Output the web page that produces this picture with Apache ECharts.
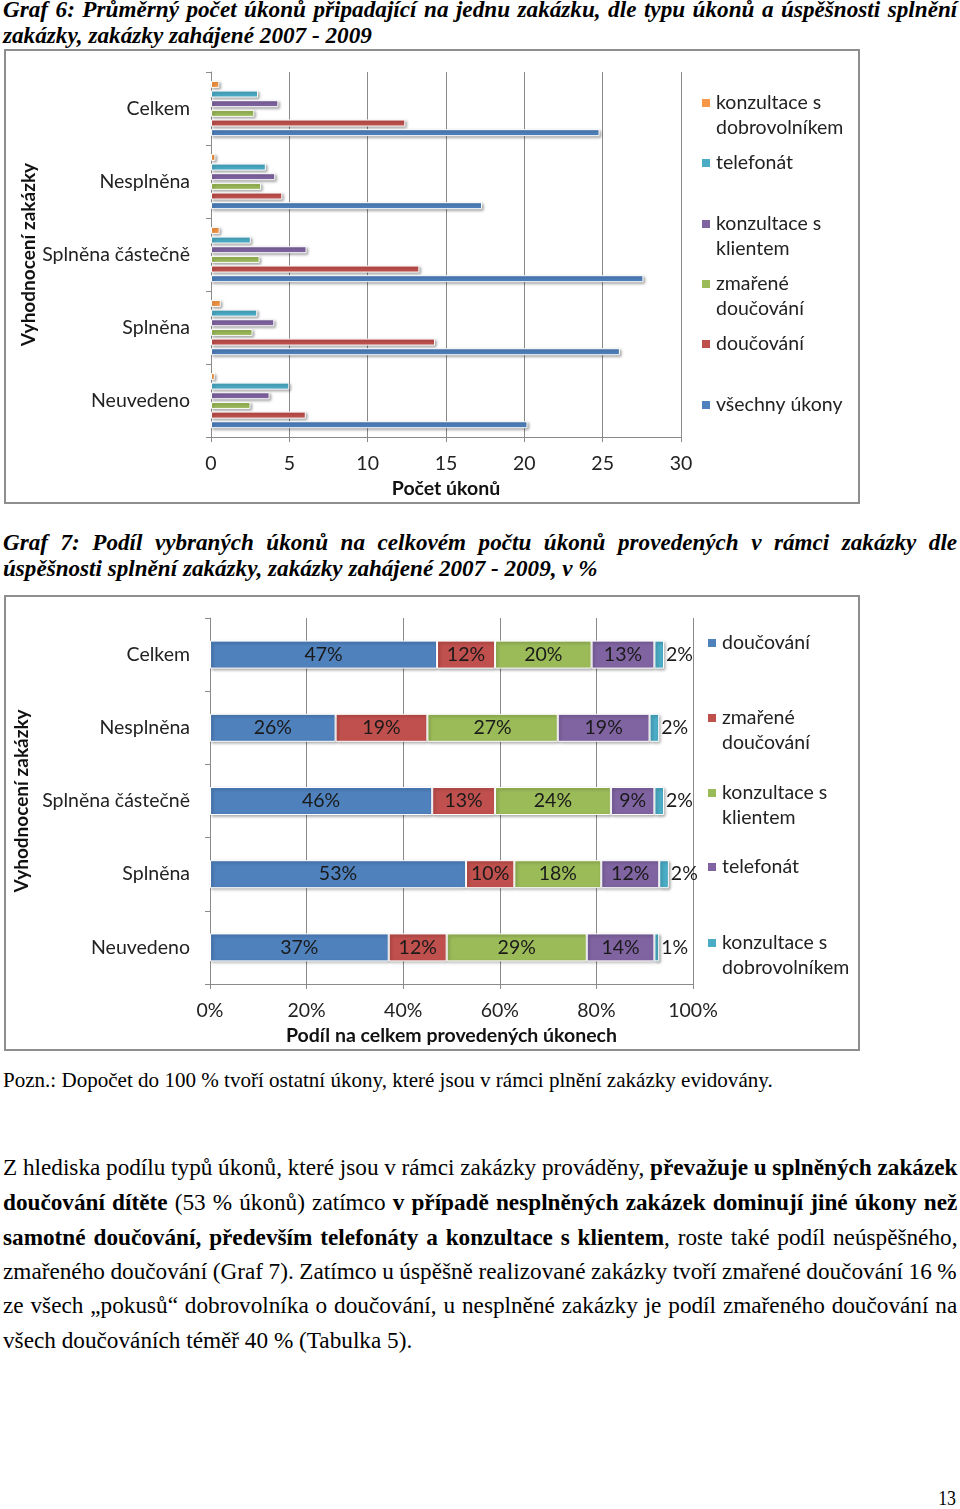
<!DOCTYPE html>
<html><head><meta charset="utf-8">
<script src="https://cdn.jsdelivr.net/npm/echarts@6/dist/echarts.min.js"></script>
<style>
html,body{margin:0;padding:0;background:#fff;}
body{width:960px;height:1509px;position:relative;overflow:hidden;}
.ln{position:absolute;left:3px;white-space:nowrap;font-family:"Liberation Serif","Times New Roman",serif;color:#000;transform-origin:0 50%;height:30px;line-height:30px;}
.t{font-weight:bold;font-style:italic;font-size:22.5px;}
.p{font-size:23px;}
.n{font-size:21px;}
.box{position:absolute;left:4px;width:856px;border:2px solid #8e8e8e;box-sizing:border-box;}
.chart{position:absolute;left:0;width:960px;}
b{font-weight:bold;}
</style></head><body>

<div class="ln t g6" data-j="1" style="top:-5px">Graf 6: Průměrný počet úkonů připadající na jednu zakázku, dle typu úkonů a úspěšnosti splnění</div>
<div class="ln t g6" style="top:21px">zakázky, zakázky zahájené 2007 - 2009</div>

<div class="box" style="top:49px;height:455px"></div>
<div id="c1" class="chart" style="top:50px;height:454px"></div>

<div class="ln t g7" data-j="1" style="top:528px">Graf 7: Podíl vybraných úkonů na celkovém počtu úkonů provedených v rámci zakázky dle</div>
<div class="ln t g7" style="top:554px">úspěšnosti splnění zakázky, zakázky zahájené 2007 - 2009, v %</div>

<div class="box" style="top:595px;height:456px"></div>
<div id="c2" class="chart" style="top:596px;height:455px"></div>

<div class="ln n gn" style="top:1065px">Pozn.: Dopočet do 100 % tvoří ostatní úkony, které jsou v rámci plnění zakázky evidovány.</div>

<div class="ln p gp" data-j="1" style="top:1153px">Z hlediska podílu typů úkonů, které jsou v rámci zakázky prováděny, <b>převažuje u splněných zakázek</b></div>
<div class="ln p gp" data-j="1" style="top:1188px"><b>doučování dítěte</b> (53 % úkonů) zatímco <b>v případě nesplněných zakázek dominují jiné úkony než</b></div>
<div class="ln p gp" data-j="1" style="top:1223px"><b>samotné doučování, především telefonáty a konzultace s klientem</b>, roste také podíl neúspěšného,</div>
<div class="ln p gp" data-j="1" style="top:1257px">zmařeného doučování (Graf 7). Zatímco u úspěšně realizované zakázky tvoří zmařené doučování 16 %</div>
<div class="ln p gp" data-j="1" style="top:1291px">ze všech „pokusů“ dobrovolníka o doučování, u nesplněné zakázky je podíl zmařeného doučování na</div>
<div class="ln p gp" style="top:1326px">všech doučováních téměř 40 % (Tabulka 5).</div>

<div class="ln p" id="pg" style="top:1483px;left:auto;right:4px;font-size:21px;">13</div>

<script>
// ---------- DATA ----------
const categories = ['Celkem', 'Nesplněna', 'Splněna částečně', 'Splněna', 'Neuvedeno'];

// Graf 6: average number of actions per order
const g6SeriesNames = ['konzultace s dobrovolníkem', 'telefonát', 'konzultace s klientem', 'zmařené doučování', 'doučování', 'všechny úkony'];
const g6KonzultaceDobrovolnik = [0.53, 0.28, 0.55, 0.62, 0.24];
const g6Telefonat = [3.0, 3.5, 2.54, 2.95, 5.0];
const g6KonzultaceKlient = [4.3, 4.1, 6.1, 4.04, 3.74];
const g6ZmareneDoucovani = [2.76, 3.2, 3.1, 2.65, 2.52];
const g6Doucovani = [12.4, 4.55, 13.3, 14.3, 6.05];
const g6VsechnyUkony = [24.8, 17.3, 27.6, 26.1, 20.2];
const g6Ticks = [0, 5, 10, 15, 20, 25, 30];

// Graf 7: share of selected actions, %
const g7SeriesNames = ['doučování', 'zmařené doučování', 'konzultace s klientem', 'telefonát', 'konzultace s dobrovolníkem'];
const g7Doucovani = [47, 26, 46, 53, 37];
const g7ZmareneDoucovani = [12, 19, 13, 10, 12];
const g7KonzultaceKlient = [20, 27, 24, 18, 29];
const g7Telefonat = [13, 19, 9, 12, 14];
const g7KonzultaceDobrovolnik = [2, 2, 2, 2, 1];
const g7Ticks = [0, 20, 40, 60, 80, 100];

// ---------- STYLE ----------
const C = {blue:'#4F81BD', red:'#C0504D', green:'#9BBB59', purple:'#8064A2', teal:'#4BACC6', orange:'#F79646'};
const FONT = 'Lato, "Open Sans", sans-serif';
const TXT = '#222';
const AX = '#8a8a8a';

function wrapName(n) {
  if (n.length <= 13) return n;
  let idx = -1;
  for (let i = 0; i < n.length && i <= 12; i++) if (n[i] === ' ') idx = i;
  if (idx < 0) return n;
  return '\n' + n.slice(0, idx) + '\n' + n.slice(idx + 1);
}
function legends(names, left, centers) {
  return names.map((n, i) => {
    const two = wrapName(n) !== n;
    return {
      data: [n], left: left, top: centers[i] - (two ? 37.5 : 12.5),
      orient: 'vertical', padding: 0, itemWidth: 10, itemHeight: 10,
      selectedMode: false, icon: 'rect',
      formatter: wrapName,
      textStyle: {fontFamily: FONT, fontSize: 19.5, lineHeight: 25, color: TXT}
    };
  });
}
function catAxis(margin, gap) {
  return {
    type: 'category', data: categories, inverse: true,
    name: 'Vyhodnocení zakázky', nameLocation: 'middle', nameGap: gap,
    nameTextStyle: {fontFamily: FONT, fontSize: 19, fontWeight: 'bold', color: '#111'},
    axisLine: {show: true, lineStyle: {color: AX, width: 1}},
    axisTick: {show: true, length: 5, lineStyle: {color: AX}},
    axisLabel: {margin: margin, fontFamily: FONT, fontSize: 19.5, color: TXT},
    splitLine: {show: false}
  };
}
function valAxis(ticks, name, gap, fmt) {
  return {
    type: 'value', min: ticks[0], max: ticks[ticks.length - 1], interval: ticks[1] - ticks[0],
    name: name, nameLocation: 'middle', nameGap: gap,
    nameTextStyle: {fontFamily: FONT, fontSize: 19.5, fontWeight: 'bold', color: '#111'},
    axisLine: {show: true, lineStyle: {color: AX, width: 1}},
    axisTick: {show: true, length: 5, lineStyle: {color: AX}},
    axisLabel: {margin: 17, fontFamily: FONT, fontSize: 19.5, color: TXT, formatter: fmt},
    splitLine: {show: true, lineStyle: {color: AX, width: 1}}
  };
}
const barStyle = (color) => ({
  color: color, borderColor: '#ffffff', borderWidth: 1,
  shadowColor: 'rgba(0,0,0,0.35)', shadowBlur: 3, shadowOffsetX: 1.5, shadowOffsetY: 1.5
});

// ---------- CHART 1 ----------
const g6Data = [g6KonzultaceDobrovolnik, g6Telefonat, g6KonzultaceKlient, g6ZmareneDoucovani, g6Doucovani, g6VsechnyUkony];
const g6Colors = [C.orange, C.teal, C.purple, C.green, C.red, C.blue];
const c1 = echarts.init(document.getElementById('c1'), null, {renderer: 'canvas'});
c1.setOption({
  animation: false,
  grid: {left: 211, top: 22, width: 470, height: 366, containLabel: false},
  xAxis: valAxis(g6Ticks, 'Počet úkonů', 40, '{value}'),
  yAxis: catAxis(21, 173),
  legend: legends(g6SeriesNames, 700, [53, 113, 174, 234, 294, 355]),
  series: g6SeriesNames.map((n, i) => ({
    name: n, type: 'bar', data: g6Data[i], barWidth: 7, barGap: '38%',
    itemStyle: barStyle(g6Colors[i])
  }))
});

// ---------- CHART 2 ----------
const g7Data = [g7Doucovani, g7ZmareneDoucovani, g7KonzultaceKlient, g7Telefonat, g7KonzultaceDobrovolnik];
const g7Colors = [C.blue, C.red, C.green, C.purple, C.teal];
const c2 = echarts.init(document.getElementById('c2'), null, {renderer: 'canvas'});
c2.setOption({
  animation: false,
  grid: {left: 210, top: 22, width: 483, height: 366, containLabel: false},
  xAxis: valAxis(g7Ticks, 'Podíl na celkem provedených úkonech', 40, '{value}%'),
  yAxis: catAxis(20, 176),
  legend: legends(g7SeriesNames, 706, [47, 122, 197, 271, 347]),
  series: g7SeriesNames.map((n, i) => ({
    name: n, type: 'bar', stack: 'podil', data: g7Data[i], barWidth: 28,
    itemStyle: barStyle(g7Colors[i]),
    label: {
      show: true, position: i === g7SeriesNames.length - 1 ? 'right' : 'inside', distance: 2,
      formatter: '{c}%', fontFamily: FONT, fontSize: 19.5, color: '#1a1a1a'
    }
  }))
});

// ---------- TEXT FITTING (condensed serif as in the scanned page) ----------
function fitGroup(cls, refWidth, fullWidth) {
  const lines = Array.from(document.querySelectorAll('.' + cls));
  const ref = lines[lines.length - 1];
  const s = refWidth / ref.offsetWidth;
  lines.forEach(el => {
    if (el.dataset.j) {
      const nat = el.offsetWidth;
      const spaces = (el.textContent.match(/ /g) || []).length;
      el.style.wordSpacing = ((fullWidth / s - nat) / spaces) + 'px';
    }
    el.style.transform = 'scaleX(' + s + ')';
  });
}
fitGroup('g6', 369, 954);
fitGroup('g7', 595, 954);
fitGroup('gn', 770, 954);
fitGroup('gp', 409, 954);
const pg = document.getElementById('pg');
pg.style.transformOrigin = '100% 50%';
pg.style.transform = 'scaleX(0.85)';
</script>
</body></html>
